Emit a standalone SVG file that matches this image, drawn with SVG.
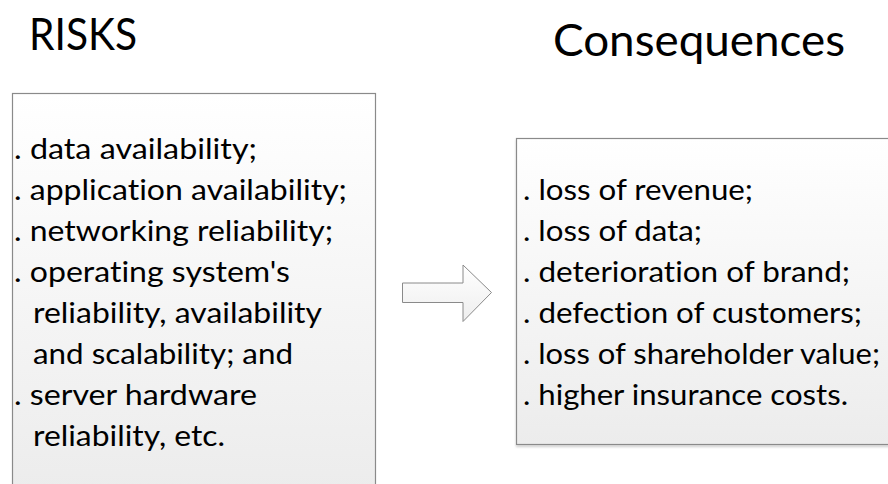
<svg xmlns="http://www.w3.org/2000/svg" width="888" height="484" viewBox="0 0 888 484">
  <style>
    text { font-variant-ligatures: none; font-feature-settings: "liga" 0, "clig" 0; }
    .title { font-family: Lato, "Open Sans", "Liberation Sans", sans-serif; font-size: 45px; fill: #000; }
    .item { font-family: Lato, "Open Sans", "Liberation Sans", sans-serif; font-size: 29px; fill: #000; }
    .box { fill: url(#boxFill); stroke: #8a8a8a; stroke-width: 1.2; }
    .arrow { fill: url(#arrowFill); stroke: #8a8a8a; stroke-width: 1; }
  </style>
  <defs>
    <linearGradient id="boxFill" x1="0" y1="0" x2="0" y2="1">
      <stop offset="0" stop-color="#ffffff"/>
      <stop offset="1" stop-color="#ececec"/>
    </linearGradient>
    <linearGradient id="arrowFill" x1="0" y1="0" x2="0" y2="1">
      <stop offset="0" stop-color="#ffffff"/>
      <stop offset="1" stop-color="#eeeeee"/>
    </linearGradient>
    <filter id="shadow" x="-5%" y="-5%" width="110%" height="110%">
      <feDropShadow dx="0" dy="2" stdDeviation="1" flood-color="#000" flood-opacity="0.18"/>
    </filter>
  </defs>

  <g id="title-risks">
    <text class="title" x="29" y="50" textLength="108" lengthAdjust="spacingAndGlyphs">RISKS</text>
  </g>
  <g id="title-consequences">
    <text class="title" x="553" y="56" textLength="292" lengthAdjust="spacingAndGlyphs">Consequences</text>
  </g>

  <g id="risks">
    <rect class="box" x="12.5" y="93.5" width="363" height="400"/>
    <text class="item" x="14" y="159" textLength="243" lengthAdjust="spacingAndGlyphs">. data availability;</text>
    <text class="item" x="14" y="200" textLength="333" lengthAdjust="spacingAndGlyphs">. application availability;</text>
    <text class="item" x="14" y="241" textLength="319" lengthAdjust="spacingAndGlyphs">. networking reliability;</text>
    <text class="item" x="14" y="282" textLength="276" lengthAdjust="spacingAndGlyphs">. operating system's</text>
    <text class="item" x="33" y="323" textLength="289" lengthAdjust="spacingAndGlyphs">reliability, availability</text>
    <text class="item" x="33" y="364" textLength="260" lengthAdjust="spacingAndGlyphs">and scalability; and</text>
    <text class="item" x="14" y="405" textLength="243" lengthAdjust="spacingAndGlyphs">. server hardware</text>
    <text class="item" x="33" y="446" textLength="192" lengthAdjust="spacingAndGlyphs">reliability, etc.</text>
  </g>

  <g id="connectors">
    <path class="arrow" d="M402.5 283 H463 V265 L491.5 292.5 L463 321.5 V302.5 H402.5 Z"/>
  </g>

  <g id="consequences">
    <rect class="box" x="516.5" y="138.5" width="380" height="306" filter="url(#shadow)"/>
    <text class="item" x="523" y="200" textLength="230" lengthAdjust="spacingAndGlyphs">. loss of revenue;</text>
    <text class="item" x="523" y="241" textLength="179" lengthAdjust="spacingAndGlyphs">. loss of data;</text>
    <text class="item" x="523" y="282" textLength="327" lengthAdjust="spacingAndGlyphs">. deterioration of brand;</text>
    <text class="item" x="523" y="323" textLength="339" lengthAdjust="spacingAndGlyphs">. defection of customers;</text>
    <text class="item" x="523" y="364" textLength="357" lengthAdjust="spacingAndGlyphs">. loss of shareholder value;</text>
    <text class="item" x="523" y="405" textLength="325" lengthAdjust="spacingAndGlyphs">. higher insurance costs.</text>
  </g>
</svg>
